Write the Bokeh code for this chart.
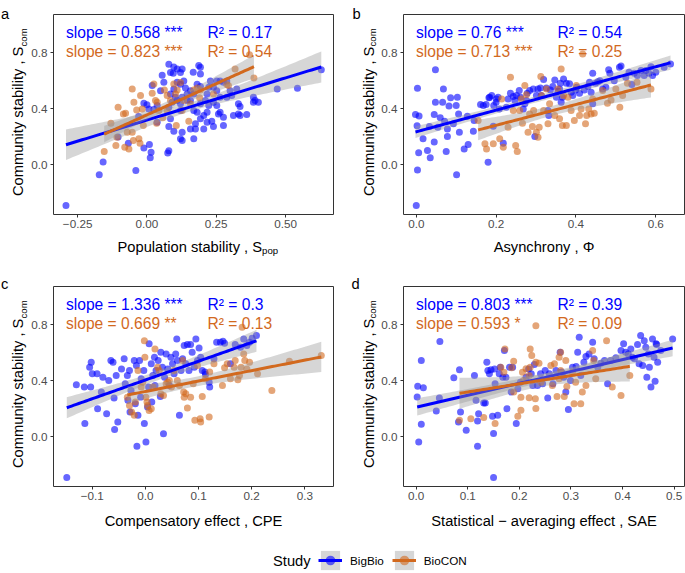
import numpy as np
from bokeh.plotting import figure
from bokeh.models import (Range1d, FixedTicker, CustomJSTickFormatter, Label,
                          Legend, LegendItem)
from bokeh.layouts import row, column
from bokeh.embed import file_html
from bokeh.resources import INLINE

FONT = "Liberation Sans"
BLUE = "#0000FF"
ORANGE = "#D2691E"
STUDIES = ["BigBio", "BioCON"]
Y_RANGE = (-0.355, 1.075)
Y_TICKS = [0.0, 0.4, 0.8]

# ---------------- data ----------------
# Panel a: Population stability (x) vs community stability (y)
A_BIGBIO = [(-0.292,-0.290),(-0.172,-0.070),(-0.158,0.020),(-0.040,-0.040),(-0.067,0.155),(-0.104,0.200),(-0.011,0.120),(0.009,0.145),(0.015,0.090),(0.012,0.050),(0.079,0.100),(0.075,0.085),(-0.011,0.440),(0.007,0.400),(0.019,0.567),(0.049,0.530),(0.055,0.640),(0.061,0.590),(0.079,0.720),(0.085,0.660),(0.097,0.700),(0.109,0.686),(0.095,0.655),(0.109,0.590),(0.121,0.660),(0.127,0.686),(0.121,0.576),(0.133,0.600),(0.139,0.550),(0.097,0.543),(0.085,0.507),(0.103,0.483),(0.091,0.447),(0.079,0.412),(0.085,0.330),(0.121,0.388),(0.079,0.274),(0.097,0.240),(0.127,0.233),(0.121,0.186),(0.127,0.174),(0.157,0.257),(0.169,0.186),(0.175,0.293),(0.175,0.257),(0.205,0.257),(0.169,0.388),(0.181,0.376),(0.193,0.330),(0.205,0.352),(0.217,0.305),(0.234,0.312),(0.240,0.274),(0.217,0.376),(0.193,0.436),(0.211,0.460),(0.223,0.424),(0.240,0.448),(0.252,0.424),(0.264,0.376),(0.276,0.340),(0.276,0.281),(0.258,0.364),(0.312,0.352),(0.330,0.364),(0.336,0.352),(0.360,0.360),(0.330,0.436),(0.336,0.417),(0.264,0.483),(0.288,0.483),(0.306,0.495),(0.300,0.530),(0.324,0.543),(0.252,0.530),(0.240,0.555),(0.223,0.555),(0.229,0.600),(0.252,0.600),(0.264,0.600),(0.276,0.590),(0.288,0.600),(0.193,0.650),(0.167,0.662),(0.187,0.710),(0.193,0.698),(0.181,0.576),(0.193,0.560),(0.157,0.530),(0.169,0.507),(0.145,0.507),(0.145,0.460),(0.157,0.460),(0.127,0.483),(0.109,0.460),(0.121,0.436),(0.217,0.507),(0.384,0.483),(0.390,0.460),(0.402,0.448),(0.384,0.448),(0.470,0.543),(0.543,0.548),(0.629,0.680),(0.037,0.424),(0.037,0.305),(0.000,0.430),(0.025,0.395),(-0.030,0.345)]
A_BIOCON = [(-0.154,0.095),(-0.130,0.298),(-0.104,0.412),(-0.112,0.138),(-0.108,0.198),(-0.085,0.364),(-0.077,0.369),(-0.080,0.126),(-0.065,0.114),(-0.071,0.233),(-0.053,0.543),(-0.047,0.448),(-0.053,0.233),(-0.049,0.174),(-0.037,0.393),(-0.029,0.186),(-0.025,0.155),(-0.023,0.495),(-0.017,0.400),(-0.013,0.281),(0.019,0.512),(0.025,0.578),(0.031,0.460),(0.037,0.448),(0.035,0.298),(0.043,0.388),(0.057,0.336),(0.063,0.536),(0.073,0.388),(0.073,0.495),(0.085,0.460),(0.097,0.578),(0.103,0.507),(0.109,0.536),(0.106,0.281),(0.121,0.588),(0.127,0.388),(0.133,0.460),(0.151,0.312),(0.157,0.436),(0.169,0.536),(0.181,0.550),(0.190,0.479),(0.193,0.536),(0.240,0.507),(0.288,0.574),(0.294,0.567),(0.318,0.686),(0.370,0.788),(0.386,0.621)]

# Panel b: Asynchrony
B_BIGBIO = [(0.000,-0.290),(0.003,-0.036),(0.006,0.086),(0.002,0.280),(-0.002,0.360),(0.007,0.350),(0.003,0.548),(0.017,0.186),(0.028,0.102),(0.035,0.050),(0.033,0.274),(0.045,0.360),(0.045,0.164),(0.048,0.680),(0.048,0.448),(0.054,0.269),(0.060,0.336),(0.066,0.448),(0.068,0.543),(0.071,0.312),(0.075,0.095),(0.078,0.202),(0.078,0.257),(0.082,0.421),(0.086,0.479),(0.093,0.293),(0.100,0.424),(0.101,-0.070),(0.103,0.483),(0.106,0.364),(0.108,0.233),(0.120,0.114),(0.128,0.348),(0.130,0.145),(0.143,0.240),(0.145,0.317),(0.161,0.431),(0.168,0.424),(0.175,0.431),(0.180,0.019),(0.182,0.479),(0.184,0.483),(0.189,0.495),(0.193,0.276),(0.194,0.424),(0.200,0.448),(0.201,0.471),(0.205,0.483),(0.208,0.400),(0.218,0.155),(0.226,0.412),(0.230,0.471),(0.236,0.512),(0.243,0.488),(0.247,0.460),(0.251,0.495),(0.258,0.531),(0.261,0.483),(0.268,0.400),(0.272,0.436),(0.276,0.460),(0.278,0.512),(0.284,0.531),(0.293,0.543),(0.297,0.202),(0.301,0.495),(0.305,0.543),(0.311,0.550),(0.313,0.495),(0.319,0.610),(0.326,0.550),(0.330,0.388),(0.332,0.352),(0.336,0.536),(0.342,0.560),(0.347,0.607),(0.351,0.483),(0.355,0.526),(0.359,0.543),(0.361,0.583),(0.363,0.448),(0.366,0.483),(0.369,0.614),(0.376,0.583),(0.384,0.579),(0.388,0.519),(0.392,0.495),(0.399,0.536),(0.402,0.555),(0.409,0.512),(0.421,0.536),(0.430,0.560),(0.434,0.590),(0.438,0.519),(0.442,0.655),(0.442,0.436),(0.449,0.583),(0.455,0.595),(0.460,0.602),(0.467,0.543),(0.475,0.555),(0.482,0.680),(0.485,0.655),(0.496,0.602),(0.509,0.698),(0.513,0.707),(0.525,0.626),(0.533,0.662),(0.540,0.574),(0.546,0.655),(0.554,0.638),(0.563,0.674),(0.571,0.638),(0.575,0.674),(0.583,0.655),(0.588,0.702),(0.592,0.638),(0.600,0.662),(0.621,0.698),(0.637,0.721)]
B_BIOCON = [(0.155,0.317),(0.172,0.150),(0.176,0.114),(0.193,0.150),(0.209,0.186),(0.214,0.471),(0.218,0.126),(0.230,0.269),(0.236,0.626),(0.243,0.388),(0.249,0.138),(0.253,0.095),(0.259,0.388),(0.263,0.471),(0.266,0.298),(0.272,0.567),(0.276,0.502),(0.280,0.233),(0.284,0.364),(0.291,0.274),(0.294,0.388),(0.301,0.233),(0.305,0.198),(0.308,0.269),(0.312,0.631),(0.314,0.495),(0.319,0.388),(0.326,0.543),(0.330,0.293),(0.334,0.436),(0.347,0.352),(0.355,0.543),(0.359,0.330),(0.363,0.686),(0.366,0.281),(0.369,0.495),(0.376,0.281),(0.380,0.483),(0.388,0.388),(0.396,0.317),(0.401,0.567),(0.409,0.352),(0.413,0.400),(0.417,0.793),(0.424,0.293),(0.427,0.352),(0.432,0.400),(0.438,0.364),(0.442,0.471),(0.446,0.369),(0.467,0.531),(0.479,0.441),(0.488,0.464),(0.500,0.543),(0.510,0.412),(0.517,0.495),(0.529,0.583),(0.553,0.590),(0.588,0.543)]

# Panel c: Compensatory effect
C_BIGBIO = [(-0.148,-0.290),(-0.130,0.372),(-0.115,0.356),(-0.114,0.095),(-0.105,0.498),(-0.102,0.534),(-0.103,0.356),(-0.100,0.451),(-0.091,0.451),(-0.090,0.201),(-0.083,0.320),(-0.080,0.427),(-0.073,0.166),(-0.069,0.403),(-0.065,0.546),(-0.061,0.534),(-0.059,0.277),(-0.058,0.052),(-0.055,0.439),(-0.052,0.106),(-0.045,0.486),(-0.040,0.558),(-0.038,0.380),(-0.034,0.439),(-0.033,0.261),(-0.030,0.475),(-0.029,0.178),(-0.027,0.332),(-0.021,0.546),(-0.019,0.237),(-0.017,0.510),(-0.016,-0.067),(-0.014,0.154),(-0.011,0.546),(-0.009,0.284),(-0.008,0.415),(-0.003,0.475),(-0.002,0.095),(0.001,-0.036),(0.004,0.213),(0.006,0.356),(0.007,0.665),(0.011,0.522),(0.012,0.249),(0.014,0.439),(0.017,0.570),(0.018,0.368),(0.020,0.475),(0.024,0.546),(0.028,0.289),(0.029,0.605),(0.032,0.498),(0.034,0.023),(0.036,0.427),(0.039,0.593),(0.042,0.486),(0.045,0.368),(0.048,0.570),(0.051,0.522),(0.054,0.451),(0.057,0.593),(0.059,0.700),(0.060,0.546),(0.064,0.154),(0.067,0.475),(0.070,0.558),(0.073,0.653),(0.076,0.522),(0.079,0.660),(0.082,0.475),(0.085,0.660),(0.088,0.605),(0.092,0.498),(0.095,0.700),(0.098,0.546),(0.101,0.636),(0.104,0.570),(0.107,0.475),(0.112,0.463),(0.113,0.446),(0.120,0.391),(0.121,0.356),(0.129,0.558),(0.134,0.676),(0.141,0.676),(0.146,0.684),(0.149,0.669),(0.160,0.522),(0.169,0.660),(0.179,0.641),(0.185,0.700),(0.191,0.653),(0.196,0.676),(0.201,0.705),(0.209,0.724)]
C_BIOCON = [(-0.034,0.284),(-0.030,0.225),(-0.026,0.178),(-0.021,0.154),(-0.019,0.249),(-0.014,0.475),(-0.008,0.356),(-0.005,0.391),(-0.002,0.688),(-0.001,0.570),(0.001,0.284),(0.003,0.249),(0.004,0.225),(0.007,0.189),(0.011,0.201),(0.014,0.356),(0.018,0.629),(0.023,0.498),(0.026,0.475),(0.029,0.308),(0.034,0.296),(0.039,0.380),(0.042,0.391),(0.045,0.403),(0.049,0.356),(0.054,0.475),(0.060,0.403),(0.064,0.368),(0.070,0.546),(0.072,0.320),(0.073,0.284),(0.076,0.308),(0.079,0.206),(0.085,0.284),(0.090,0.380),(0.093,0.118),(0.098,0.510),(0.103,0.130),(0.104,0.106),(0.107,0.289),(0.113,0.415),(0.120,0.142),(0.121,0.463),(0.129,0.522),(0.145,0.368),(0.149,0.494),(0.154,0.522),(0.160,0.415),(0.167,0.498),(0.169,0.546),(0.174,0.408),(0.177,0.439),(0.180,0.498),(0.182,0.783),(0.185,0.593),(0.187,0.546),(0.191,0.486),(0.196,0.534),(0.211,0.451),(0.238,0.332),(0.271,0.541),(0.331,0.581)]

# Panel d: Statistical-averaging effect
D_BIGBIO = [(0.003,0.361),(0.002,0.285),(0.005,-0.036),(0.010,0.090),(0.010,0.546),(0.014,0.351),(0.039,0.185),(0.045,0.277),(0.046,0.681),(0.073,0.422),(0.082,0.107),(0.084,0.479),(0.086,0.178),(0.097,0.048),(0.113,0.439),(0.116,0.261),(0.119,0.113),(0.121,0.166),(0.119,-0.067),(0.131,0.242),(0.134,0.242),(0.137,0.534),(0.139,0.475),(0.142,0.451),(0.145,0.479),(0.148,0.147),(0.150,0.024),(0.150,-0.290),(0.152,0.486),(0.153,0.380),(0.158,0.154),(0.161,0.451),(0.163,0.498),(0.168,0.427),(0.171,0.617),(0.174,0.427),(0.176,0.201),(0.181,0.498),(0.184,0.320),(0.187,0.498),(0.194,0.095),(0.197,0.344),(0.202,0.391),(0.213,0.427),(0.218,0.486),(0.223,0.451),(0.226,0.368),(0.229,0.517),(0.235,0.368),(0.241,0.451),(0.245,0.380),(0.250,0.475),(0.255,0.277),(0.258,0.451),(0.265,0.380),(0.271,0.475),(0.279,0.605),(0.282,0.463),(0.286,0.427),(0.290,0.320),(0.295,0.196),(0.299,0.403),(0.303,0.498),(0.310,0.503),(0.313,0.605),(0.316,0.712),(0.319,0.439),(0.325,0.534),(0.329,0.574),(0.335,0.593),(0.342,0.676),(0.345,0.558),(0.352,0.498),(0.358,0.527),(0.365,0.546),(0.371,0.380),(0.377,0.546),(0.387,0.565),(0.397,0.617),(0.402,0.665),(0.406,0.605),(0.411,0.593),(0.416,0.629),(0.419,0.570),(0.423,0.558),(0.429,0.660),(0.432,0.522),(0.435,0.724),(0.439,0.510),(0.442,0.688),(0.445,0.641),(0.447,0.427),(0.450,0.593),(0.452,0.498),(0.455,0.356),(0.458,0.700),(0.461,0.570),(0.463,0.398),(0.465,0.665),(0.466,0.660),(0.468,0.534),(0.474,0.617),(0.497,0.700)]
D_BIOCON = [(0.084,0.118),(0.106,0.130),(0.131,0.138),(0.153,0.095),(0.164,0.498),(0.170,0.462),(0.172,0.629),(0.185,0.494),(0.189,0.541),(0.189,0.320),(0.197,0.147),(0.203,0.284),(0.203,0.190),(0.206,0.462),(0.208,0.403),(0.213,0.487),(0.219,0.439),(0.219,0.280),(0.221,0.629),(0.221,0.498),(0.224,0.581),(0.231,0.273),(0.232,0.795),(0.232,0.534),(0.232,0.202),(0.238,0.527),(0.242,0.391),(0.261,0.510),(0.264,0.368),(0.268,0.522),(0.273,0.289),(0.277,0.569),(0.277,0.415),(0.280,0.605),(0.280,0.474),(0.287,0.289),(0.290,0.546),(0.292,0.360),(0.303,0.462),(0.306,0.237),(0.309,0.391),(0.319,0.237),(0.322,0.320),(0.329,0.368),(0.342,0.617),(0.344,0.546),(0.348,0.415),(0.369,0.688),(0.380,0.356),(0.397,0.296),(0.414,0.439)]

ANN = {
    "a": ["slope = 0.568 ***", "slope = 0.823 ***", "R\u00b2 = 0.17", "R\u00b2 = 0.54"],
    "b": ["slope = 0.76 ***", "slope = 0.713 ***", "R\u00b2 = 0.54", "R\u00b2 = 0.25"],
    "c": ["slope = 1.336 ***", "slope = 0.669 **", "R\u00b2 = 0.3", "R\u00b2 = 0.13"],
    "d": ["slope = 0.803 ***", "slope = 0.593 *", "R\u00b2 = 0.39", "R\u00b2 = 0.09"],
}
X_TITLES = {
    "a": ("Population stability , S", "pop"),
    "b": ("Asynchrony , \u03a6", None),
    "c": ("Compensatory effect , CPE", None),
    "d": ("Statistical \u2212 averaging effect , SAE", None),
}
Y_TITLE = ("Community stability , S", "com")
X_RANGES = {"a": (-0.337, 0.673), "b": (-0.032, 0.672), "c": (-0.173, 0.354), "d": (-0.0245, 0.52)}
X_TICKS = {"a": [-0.25, 0.0, 0.25, 0.5], "b": [0.0, 0.2, 0.4, 0.6],
           "c": [-0.1, 0.0, 0.1, 0.2, 0.3], "d": [0.0, 0.1, 0.2, 0.3, 0.4, 0.5]}
X_DECIMALS = {"a": 2, "b": 1, "c": 1, "d": 1}
DATA = {"a": (A_BIGBIO, A_BIOCON), "b": (B_BIGBIO, B_BIOCON),
        "c": (C_BIGBIO, C_BIOCON), "d": (D_BIGBIO, D_BIOCON)}

FH = 200  # frame height in px


def fit_band(pts):
    x = np.array([q[0] for q in pts]); y = np.array([q[1] for q in pts])
    n = len(x)
    b, a = np.polyfit(x, y, 1)
    s = np.sqrt(np.sum((y - (a + b * x)) ** 2) / (n - 2))
    xm = x.mean(); sxx = np.sum((x - xm) ** 2)
    xs = np.linspace(x.min(), x.max(), 80)
    yh = a + b * xs
    se = s * np.sqrt(1.0 / n + (xs - xm) ** 2 / sxx)
    df = n - 2
    t = 1.959964 + 2.37 / df + 2.82 / df ** 2
    return xs, yh, yh - t * se, yh + t * se


def add_text(p, x, y, text, size, color="black", align="left", angle=0.0, baseline="alphabetic"):
    p.add_layout(Label(x=x, y=y, text=text, text_font=FONT, text_font_size=size,
                       text_color=color, text_align=align, text_baseline=baseline,
                       angle=angle))


def strip(w, h):
    s = figure(width=w, height=h, x_range=Range1d(0, w), y_range=Range1d(0, h),
               output_backend="svg", toolbar_location=None, min_border=0,
               x_axis_type=None, y_axis_type=None, frame_align=False)
    s.outline_line_color = None
    s.grid.visible = False
    return s


def panel(key, bl, br, bt, bb, fw):
    xr = X_RANGES[key]
    p = figure(width=bl + fw + br, height=bt + FH + bb,
               x_range=Range1d(*xr), y_range=Range1d(*Y_RANGE),
               output_backend="svg", toolbar_location=None,
               min_border_left=bl, min_border_right=br,
               min_border_top=bt, min_border_bottom=bb, frame_align=False)
    p.xgrid.visible = False
    p.ygrid.visible = False
    p.outline_line_color = "#333333"
    p.outline_line_width = 1
    p.xaxis.ticker = FixedTicker(ticks=X_TICKS[key])
    p.xaxis.formatter = CustomJSTickFormatter(
        code="return tick.toFixed(%d).replace('-', '\u2212');" % X_DECIMALS[key])
    p.yaxis.ticker = FixedTicker(ticks=Y_TICKS)
    p.yaxis.formatter = CustomJSTickFormatter(code="return tick.toFixed(1).replace('-', '\u2212');")
    for ax in (p.xaxis, p.yaxis):
        ax.axis_line_color = None
        ax.major_tick_line_color = "#333333"
        ax.major_tick_out = 3
        ax.major_tick_in = 0
        ax.minor_tick_line_color = None
        ax.major_label_text_color = "#4D4D4D"
        ax.major_label_text_font = FONT
        ax.major_label_text_font_size = "11.7px"
    p.xaxis.major_label_standoff = 2
    p.yaxis.major_label_standoff = 3

    big, con = DATA[key]
    for pts, col in ((big, BLUE), (con, ORANGE)):
        p.scatter([q[0] for q in pts], [q[1] for q in pts], size=7,
                  fill_color=col, fill_alpha=0.6, line_color=None)
    for pts, col in ((big, BLUE), (con, ORANGE)):
        xs, yh, lo, hi = fit_band(pts)
        p.varea(x=xs, y1=lo, y2=hi, fill_color="#999999", fill_alpha=0.4)
        p.line(xs, yh, line_color=col, line_width=3)

    def X(off):
        return xr[0] + off * (xr[1] - xr[0]) / fw

    def Y(off):  # px below frame top
        return Y_RANGE[1] - off * (Y_RANGE[1] - Y_RANGE[0]) / FH

    t = ANN[key]
    add_text(p, X(12.5), Y(17.5), t[0], "15.6px", BLUE)
    add_text(p, X(12.5), Y(36.8), t[1], "15.6px", ORANGE)
    add_text(p, X(154), Y(17.5), t[2], "15.6px", BLUE)
    add_text(p, X(154), Y(36.8), t[3], "15.6px", ORANGE)
    return p


def y_strip(key, w, h, letter_x, letter_base, base_x, title_start, sub_dx):
    # base_x: x of the title's text baseline; labels anchored at their vertical middle
    s = strip(w, h)
    add_text(s, letter_x, h - letter_base, key, "14.7px")
    add_text(s, base_x - 5.1, h - title_start, Y_TITLE[0], "14.7px",
             angle=np.pi / 2, baseline="middle")
    add_text(s, base_x + sub_dx - 3.3, h - (title_start - 149.5), Y_TITLE[1], "9.6px",
             angle=np.pi / 2, baseline="middle")
    return s


def x_strip(key, w, h, frame_left, fw, base):
    s = strip(w, h)
    main, sub = X_TITLES[key]
    if sub:
        x0 = frame_left + 64
        add_text(s, x0, h - base, main, "14.7px")
        add_text(s, x0 + 144.6, h - base - 3, sub, "9.6px")
    else:
        add_text(s, frame_left + fw / 2.0, h - base, main, "14.7px", align="center")
    return s


# row 1 : panels a, b  (panel figures 0..233, title strips 233..270)
fa = panel("a", 25, 7, 14, 19, 280)
fb = panel("b", 25, 1, 14, 19, 281)
ya = y_strip("a", 28, 270, 0.5, 13.5, 23, 195.5, 3)
yb = y_strip("b", 38, 270, 12, 13.5, 33.5, 195.5, 2)
xa = x_strip("a", 312, 37, 25, 280, 13.7)
xb = x_strip("b", 307, 37, 25, 281, 13.7)

# row 2 : panels c, d  (panel figures 270..505, title strips 505..540)
fc = panel("c", 25, 7, 16, 19, 280)
fd = panel("d", 25, 1, 16, 19, 281)
yc = y_strip("c", 28, 270, 0.5, 13.5, 23, 197.5, 3)
yd = y_strip("d", 38, 270, 11, 13.5, 33.5, 197.5, 2)
xc = x_strip("c", 312, 35, 25, 280, 15)
xd = x_strip("d", 307, 35, 25, 281, 15)

# legend strip (renderers carry the BigBio / BioCON series of panel a, hidden)
leg = strip(685, 33)
items = []
for name, col, pts in zip(STUDIES, [BLUE, ORANGE], [A_BIGBIO, A_BIOCON]):
    xs, yh, lo, hi = fit_band(pts)
    r_band = leg.varea(x=xs, y1=lo, y2=hi, fill_color="#999999", fill_alpha=0.4, visible=False)
    r_line = leg.line(xs, yh, line_color=col, line_width=3, visible=False)
    r_pt = leg.scatter([q[0] for q in pts], [q[1] for q in pts], size=7,
                       fill_color=col, fill_alpha=0.6, line_color=None, visible=False)
    items.append(LegendItem(label=name, renderers=[r_band, r_line, r_pt]))
legend = Legend(items=items, location=(318, 1), orientation="horizontal",
                glyph_width=24, glyph_height=24, label_height=24, label_standoff=8,
                spacing=8, padding=0, margin=0, border_line_color=None,
                background_fill_alpha=0, inactive_fill_alpha=0, label_text_font=FONT,
                label_text_font_size="11.7px", label_text_color="black")
leg.add_layout(legend)
add_text(leg, 272.5, 13, "Study", "14.7px", baseline="middle")

row1 = row(ya, column(fa, xa), yb, column(fb, xb))
row2 = row(yc, column(fc, xc), yd, column(fd, xd))
root = column(row1, row2, leg)
open("out.html", "w").write(file_html(root, INLINE))
